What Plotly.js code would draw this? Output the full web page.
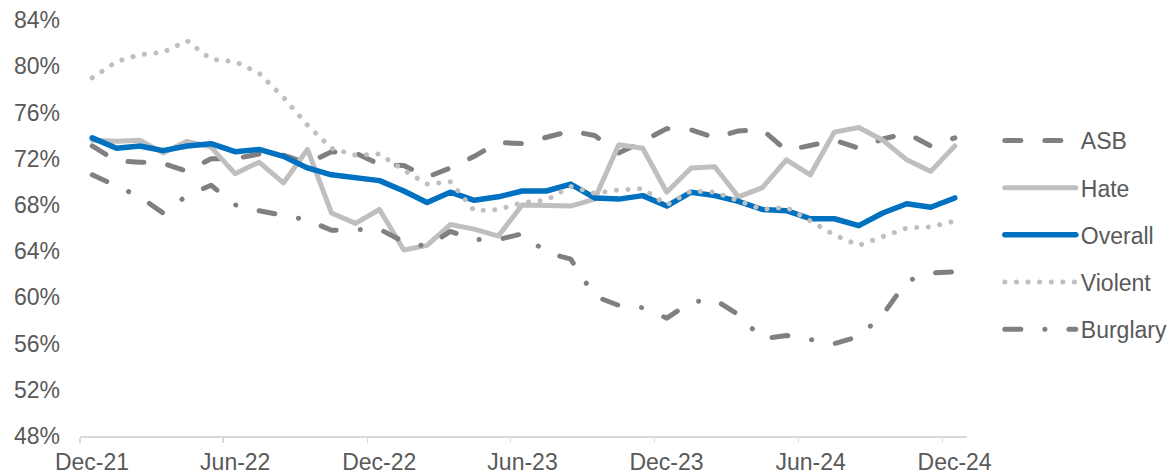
<!DOCTYPE html>
<html>
<head>
<meta charset="utf-8">
<script src="https://cdn.plot.ly/plotly-3.0.1.min.js"></script>
<style>
  html, body { margin: 0; padding: 0; background: #fff; }
  #chart { width: 1173px; height: 474px; }
  .scatterlayer .js-line, .legend .js-line { stroke-linecap: round; stroke-linejoin: round; }
</style>
</head>
<body>
<div id="chart"></div>
<script>
// Months (Dec-21 .. Dec-24)
const months = [
  "2021-12",
  "2022-01","2022-02","2022-03","2022-04","2022-05","2022-06",
  "2022-07","2022-08","2022-09","2022-10","2022-11","2022-12",
  "2023-01","2023-02","2023-03","2023-04","2023-05","2023-06",
  "2023-07","2023-08","2023-09","2023-10","2023-11","2023-12",
  "2024-01","2024-02","2024-03","2024-04","2024-05","2024-06",
  "2024-07","2024-08","2024-09","2024-10","2024-11","2024-12"
];

const asb = [
  73.1,
  71.8, 71.7, 71.6, 70.9, 72.0, 72.0, 72.4, 72.3, 71.6, 72.6, 72.5, 71.5,
  71.4, 70.4, 71.2, 72.2, 73.4, 73.3, 73.9, 74.4, 74.0, 72.5, 73.5, 74.6,
  74.5, 73.8, 74.4, 74.5, 72.7, 73.2, 73.6, 72.9, 73.7, 74.2, 73.1, 73.8
];

const hate = [
  73.6,
  73.5, 73.6, 72.5, 73.5, 73.0, 70.7, 71.7, 69.9, 72.8, 67.3, 66.4, 67.6,
  64.1, 64.5, 66.3, 65.9, 65.3, 68.0, 68.0, 67.9, 68.5, 73.2, 72.9, 69.1,
  71.2, 71.3, 68.7, 69.5, 71.9, 70.6, 74.3, 74.7, 73.6, 71.9, 70.9, 73.1
];

const overall = [
  73.8,
  72.9, 73.1, 72.7, 73.1, 73.3, 72.6, 72.8, 72.2, 71.2, 70.6, 70.4, 70.1,
  69.2, 68.2, 69.1, 68.4, 68.7, 69.2, 69.2, 69.8, 68.6, 68.5, 68.8, 67.9,
  69.1, 68.8, 68.3, 67.6, 67.5, 66.8, 66.8, 66.2, 67.3, 68.1, 67.8, 68.6
];

const violent = [
  79.0,
  80.4, 81.0, 81.2, 82.2, 80.6, 80.4, 79.4, 77.3, 74.9, 72.9, 72.3, 72.4,
  71.0, 69.8, 70.0, 67.5, 67.6, 68.2, 68.4, 69.6, 69.0, 69.3, 69.4, 68.0,
  69.2, 69.1, 68.3, 67.6, 67.8, 66.6, 65.4, 64.5, 65.2, 66.0, 66.1, 66.6
];

const burglary = [
  70.6,
  69.6, 68.7, 67.3, 68.8, 69.7, 68.0, 67.5, 67.1, 66.7, 65.8, 65.8, 65.9,
  64.8, 64.4, 65.7, 65.0, 65.0, 65.5, 63.9, 63.3, 60.1, 59.3, 59.1, 58.2,
  59.6, 59.8, 58.5, 56.4, 56.7, 56.3, 56.0, 56.6, 58.5, 61.4, 62.1, 62.2
];

const seriesNames = ["ASB", "Hate", "Overall", "Violent", "Burglary"];

function tr(name, y, color, width, dash) {
  return {
    type: "scatter", mode: "lines", name: name, legendgroup: name,
    x: months, y: y, xperiod: "M1", xperiodalignment: "middle",
    line: { color: color, width: width, dash: dash },
    hoverinfo: "skip"
  };
}

const data = [
  tr(seriesNames[0], asb, "#808080", 5, "16px,24px"),
  tr(seriesNames[1], hate, "#bfbfbf", 5, "solid"),
  tr(seriesNames[2], overall, "#0070c0", 5.5, "solid"),
  tr(seriesNames[3], violent, "#bfbfbf", 5, "0.1px,11.5px"),
  tr(seriesNames[4], burglary, "#808080", 5, "16px,24px,0.1px,24px")
];

const fontFam = "'Liberation Sans', Arial, sans-serif";

const layout = {
  width: 1173, height: 474,
  margin: { l: 80, r: 206, t: 20, b: 38, autoexpand: false },
  paper_bgcolor: "#ffffff", plot_bgcolor: "#ffffff",
  font: { family: fontFam, size: 23, color: "#595959" },
  showlegend: true,
  legend: {
    x: 1.037, xanchor: "left", y: 0.762, yanchor: "top",
    font: { family: fontFam, size: 23, color: "#595959" },
    itemwidth: 71, tracegroupgap: 14.3, bgcolor: "rgba(0,0,0,0)"
  },
  xaxis: {
    type: "date",
    range: ["2021-12-01", "2025-01-01"],
    tick0: "2021-12-01", dtick: "M6", tickformat: "%b-%y",
    ticks: "outside", ticklen: 5, tickwidth: 1.5, tickcolor: "#d9d9d9",
    showline: true, linecolor: "#d9d9d9", linewidth: 1.5,
    showgrid: false, zeroline: false,
    ticklabelshift: 12,
    tickfont: { family: fontFam, size: 23, color: "#595959" },
    automargin: false
  },
  yaxis: {
    range: [48, 84], tick0: 48, dtick: 4, ticksuffix: "%",
    ticks: "", showline: false, showgrid: false, zeroline: false,
    ticklabelstandoff: 19,
    tickfont: { family: fontFam, size: 23, color: "#595959" },
    automargin: false
  }
};

Plotly.newPlot("chart", data, layout, { displayModeBar: false, staticPlot: true });
</script>
</body>
</html>
